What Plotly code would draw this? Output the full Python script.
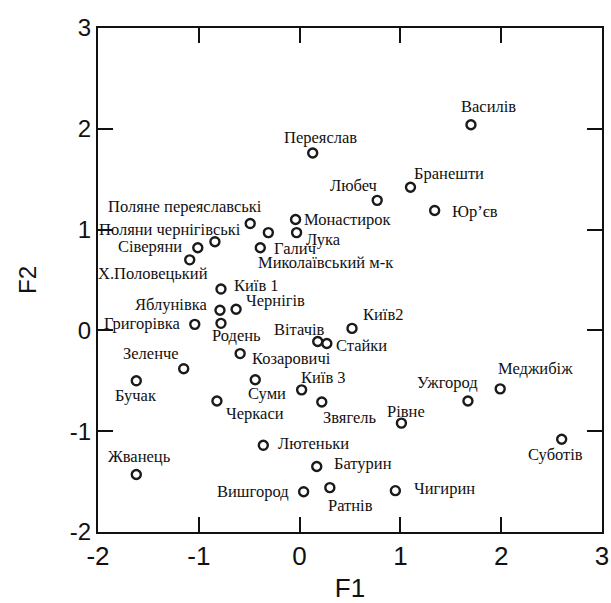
import plotly.graph_objects as go

names = ["Василів", "Переяслав", "Бранешти", "Любеч", "Юр’єв", "Монастирок", "Лука",
         "Миколаївський м-к", "Поляни чернігівські", "Поляне переяславські", "Галич",
         "Сіверяни", "Х.Половецький", "Київ 1", "Яблунівка", "Чернігів", "Родень",
         "Григорівка", "Вітачів", "Київ2", "Стайки", "Козаровичі", "Зеленче", "Бучак",
         "Суми", "Київ 3", "Черкаси", "Звягель", "Рівне", "Ужгород", "Меджибіж",
         "Суботів", "Лютеньки", "Батурин", "Вишгород", "Ратнів", "Чигирин", "Жванець"]
f1 = [1.70, 0.13, 1.10, 0.77, 1.34, -0.04, -0.03,
      -0.31, -0.49, -0.84, -0.39,
      -1.01, -1.09, -0.78, -0.79, -0.63, -0.78,
      -1.04, 0.18, 0.52, 0.27, -0.59, -1.15, -1.62,
      -0.44, 0.02, -0.82, 0.22, 1.01, 1.67, 1.99,
      2.60, -0.36, 0.17, 0.04, 0.30, 0.95, -1.62]
f2 = [2.04, 1.76, 1.42, 1.29, 1.19, 1.10, 0.97,
      0.97, 1.06, 0.88, 0.82,
      0.82, 0.70, 0.41, 0.20, 0.21, 0.07,
      0.06, -0.11, 0.02, -0.13, -0.23, -0.38, -0.50,
      -0.49, -0.59, -0.70, -0.71, -0.92, -0.70, -0.58,
      -1.08, -1.14, -1.35, -1.60, -1.56, -1.59, -1.43]
x_ticks = [-2, -1, 0, 1, 2, 3]
y_ticks = [-2, -1, 0, 1, 2, 3]

# label placement: (anchor, dx px, dy px down)
label_pos = [("center", 17.5, -18), ("center", 8, -15), ("left", 2, -14), ("right", 2, -14.5),
             ("left", 15, 1), ("left", 6.5, 0), ("left", 7, 6.5),
             ("left", -12.7, 30), ("right", -7.3, 6), ("right", 49, -35), ("left", 11.7, 1),
             ("right", -13.4, -1.6), ("right", 20.7, 13.3), ("left", 10.7, -3.3),
             ("right", -10.7, -6), ("left", 8.3, -8.3), ("left", -10.7, 11.7),
             ("right", -12, -1), ("right", 9.4, -12.4), ("left", 9.3, -14.3), ("left", 6.7, 2.4),
             ("left", 10, 5), ("right", -2.3, -15.3), ("center", 0, 14.3),
             ("left", -9.3, 13.3), ("left", -2.5, -12), ("left", 6.7, 13), ("left", -0.7, 15.6),
             ("center", 5, -12), ("right", 12.3, -18), ("left", -4.3, -20),
             ("center", -6, 15), ("left", 12.3, -2), ("left", 15.7, -2.7),
             ("right", -12.7, -0.6), ("left", -4.3, 17.4), ("left", 16.7, -1.7), ("center", 3.6, -18.3)]

fig = go.Figure()
fig.add_trace(go.Scatter(
    x=f1, y=f2, mode="markers",
    marker=dict(symbol="circle-open", size=9, color="#1a1a1a", line=dict(width=2.4, color="#1a1a1a")),
    hoverinfo="text", text=names, showlegend=False, cliponaxis=False,
))

annotations = []
for n, x, y, (anc, dx, dy) in zip(names, f1, f2, label_pos):
    annotations.append(dict(
        x=x, y=y, xref="x", yref="y", text=n, showarrow=False,
        xanchor=anc, yanchor="middle", xshift=dx, yshift=-dy,
        font=dict(family="Liberation Serif", size=16.5, color="#111111"),
    ))

axis_common = dict(
    showgrid=False, zeroline=False, showline=True, linecolor="#111111", linewidth=2,
    mirror="ticks", ticks="inside", ticklen=15, tickwidth=2, tickcolor="#111111",
    automargin=False,
)

fig.update_layout(
    width=611, height=603,
    margin=dict(l=98, r=9, t=28, b=71),
    paper_bgcolor="white", plot_bgcolor="white",
    annotations=annotations,
    xaxis=dict(range=[-2, 3], tickvals=x_ticks, ticktext=[str(v) for v in x_ticks],
               tickfont=dict(family="Liberation Sans", size=26, color="#111111"),
               title=dict(text="F1", font=dict(family="Liberation Sans", size=26, color="#111111"), standoff=10),
               **axis_common),
    yaxis=dict(range=[-2, 3], tickvals=y_ticks, ticktext=[str(v) for v in y_ticks],
               tickfont=dict(family="Liberation Sans", size=24, color="#111111"),
               title=dict(text="F2", font=dict(family="Liberation Sans", size=24, color="#111111"), standoff=26),
               **axis_common),
)

# remove the browser's default page margin so the figure fills the window exactly
fig.write_html("out.html", config={"displayModeBar": False},
               post_script="document.body.style.margin='0';document.body.style.overflow='hidden';")
